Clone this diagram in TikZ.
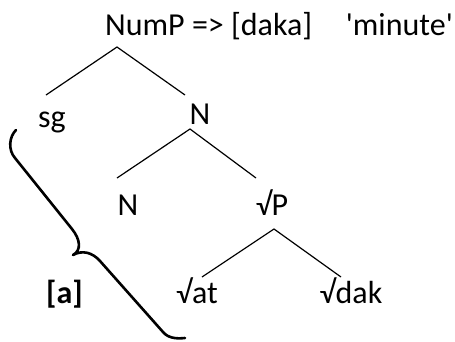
\documentclass[tikz,border=0pt]{standalone}
\usepackage{fontspec}
\setmainfont{Carlito}
\usepackage{tikz}
\usetikzlibrary{positioning}

\begin{document}
\begin{tikzpicture}[x=1pt, y=-1pt,
    lbl/.style={anchor=base, inner sep=0pt, font=\fontsize{32}{38}\selectfont},
    branch/.style={line width=1.2pt},
    bracket/.style={line width=2.6pt, line cap=round, line join=round}
  ]
  \useasboundingbox (0,0) rectangle (455,341);

  % labels
  \node[lbl, anchor=base west] (numP) at (105,35) {NumP => [daka]};
  \node[lbl, anchor=base east] (gloss) at (453,35) {\textquotesingle minute\textquotesingle};
  \node[lbl] (sg) at (52,127) {sg};
  \node[lbl] (nTop) at (200,124) {N};
  \node[lbl] (nLow) at (128,215) {N};
  \node[lbl] (rootP) at (272,215) {√P};
  \node[lbl, font=\fontsize{32}{38}\selectfont\bfseries] (vowel) at (64.5,303) {[a]};
  \node[lbl] (rootAt) at (197,303) {√at};
  \node[lbl] (rootDak) at (351,303) {√dak};

  % branching points
  \coordinate (numP-fork) at (117,47);
  \coordinate (nTop-fork) at (190,129);
  \coordinate (rootP-fork) at (274,229);
  \coordinate (sg-end) at (46,95);
  \coordinate (nTop-end) at (185,95);
  \coordinate (nLow-end) at (117,178);
  \coordinate (rootP-end) at (256,178);
  \coordinate (rootAt-end) at (202,277);
  \coordinate (rootDak-end) at (341,277);

  \draw[branch] (sg-end) -- (numP-fork) -- (nTop-end);
  \draw[branch] (nLow-end) -- (nTop-fork) -- (rootP-end);
  \draw[branch] (rootAt-end) -- (rootP-fork) -- (rootDak-end);

  % brace
  \draw[bracket] (16,130) .. controls (9,137) and (8,150) .. (15,158) -- (72,229)
    .. controls (80,239) and (82,250) .. (73,255)
    .. controls (82,250) and (92,252) .. (100,261) -- (163,332)
    .. controls (168,338) and (176,339) .. (185,338);
\end{tikzpicture}
\end{document}
